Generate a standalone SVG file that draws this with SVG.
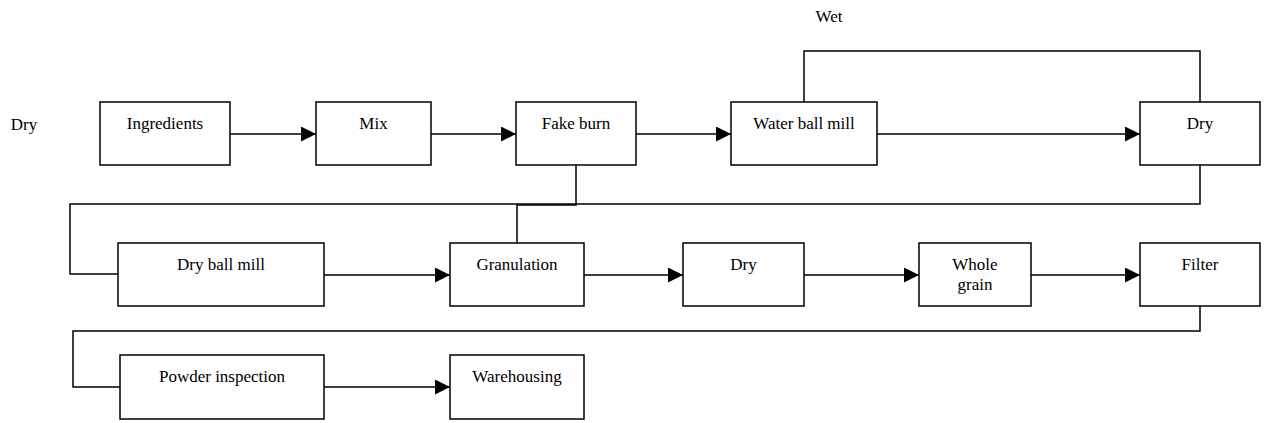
<svg xmlns="http://www.w3.org/2000/svg" width="1266" height="423" viewBox="0 0 1266 423" font-family="Liberation Serif, serif">
<style>
.box{fill:#fff;stroke:#000;stroke-width:1.5}
text, g text, g[id] text{font-family:'Liberation Serif',serif !important;font-size:17px;fill:#000;text-anchor:middle}
.ln{fill:none;stroke:#000;stroke-width:1.5}
.ar{fill:none;stroke:#000;stroke-width:1.5;marker-end:url(#ah)}
</style>
<defs>
<marker id="ah" markerUnits="userSpaceOnUse" markerWidth="15" markerHeight="15" refX="15" refY="7.5" orient="auto">
<path d="M0,0 L15,7.5 L0,15 z" fill="#000"/>
</marker>
</defs>
<text x="24" y="130">Dry</text>
<text x="829" y="22">Wet</text>
<g id="connectors">
<path class="ar" d="M230,134 H316"/>
<path class="ar" d="M431,134 H516"/>
<path class="ar" d="M636,134 H731"/>
<path class="ar" d="M877,134 H1140"/>
<path class="ar" d="M324,275 H450"/>
<path class="ar" d="M584,275 H683"/>
<path class="ar" d="M804,275 H919"/>
<path class="ar" d="M1031,275 H1140"/>
<path class="ar" d="M324,387 H450"/>
<path class="ln" d="M804,102 V51 H1200 V102"/>
<path class="ln" d="M1200,165 V204 H70 V274 H118"/>
<path class="ln" d="M576,165 V205 H517 V243"/>
<path class="ln" d="M1200,306 V331 H73 V387 H120"/>
</g>
<g id="ingredients"><rect class="box" x="100" y="102" width="130" height="63"/><text x="165" y="129" style="font-family:'Liberation Serif',serif">Ingredients</text></g>
<g id="mix"><rect class="box" x="316" y="102" width="115" height="63"/><text x="373.5" y="129" style="font-family:'Liberation Serif',serif">Mix</text></g>
<g id="fake-burn"><rect class="box" x="516" y="102" width="120" height="63"/><text x="576" y="129" style="font-family:'Liberation Serif',serif">Fake burn</text></g>
<g id="water-ball-mill"><rect class="box" x="731" y="102" width="146" height="63"/><text x="804" y="129" style="font-family:'Liberation Serif',serif">Water ball mill</text></g>
<g id="dry-1"><rect class="box" x="1140" y="102" width="120" height="63"/><text x="1200" y="129" style="font-family:'Liberation Serif',serif">Dry</text></g>
<g id="dry-ball-mill"><rect class="box" x="118" y="243" width="206" height="63"/><text x="221" y="270" style="font-family:'Liberation Serif',serif">Dry ball mill</text></g>
<g id="granulation"><rect class="box" x="450" y="243" width="134" height="63"/><text x="517" y="270" style="font-family:'Liberation Serif',serif">Granulation</text></g>
<g id="dry-2"><rect class="box" x="683" y="243" width="121" height="63"/><text x="743.5" y="270" style="font-family:'Liberation Serif',serif">Dry</text></g>
<g id="whole-grain"><rect class="box" x="919" y="243" width="112" height="63"/><text x="975" y="270" style="font-family:'Liberation Serif',serif">Whole</text><text x="975" y="290" style="font-family:'Liberation Serif',serif">grain</text></g>
<g id="filter"><rect class="box" x="1140" y="243" width="120" height="63"/><text x="1200" y="270" style="font-family:'Liberation Serif',serif">Filter</text></g>
<g id="powder-inspection"><rect class="box" x="120" y="355" width="204" height="64"/><text x="222" y="382" style="font-family:'Liberation Serif',serif">Powder inspection</text></g>
<g id="warehousing"><rect class="box" x="450" y="355" width="134" height="64"/><text x="517" y="382" style="font-family:'Liberation Serif',serif">Warehousing</text></g>
</svg>
